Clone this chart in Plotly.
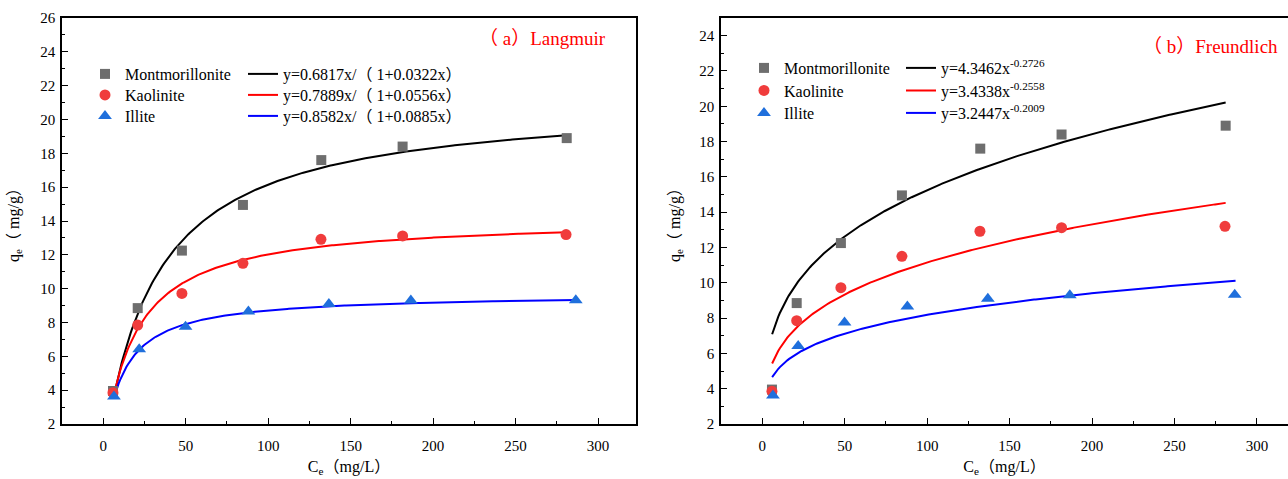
import numpy as np
import plotly.graph_objects as go

# ---- data ----
series_names = ["Montmorillonite", "Kaolinite", "Illite"]
ce_mont = [5.9, 20.9, 47.7, 84.7, 132.2, 181.5, 281.0]
qe_mont = [3.95, 8.85, 12.25, 14.95, 17.6, 18.4, 18.9]
ce_kaol = [5.9, 20.9, 47.7, 84.7, 132.0, 181.5, 280.6]
qe_kaol = [3.85, 7.85, 9.72, 11.5, 12.92, 13.12, 13.2]
ce_illi = [6.5, 21.8, 49.9, 88.0, 136.8, 186.5, 286.5]
qe_illi = [3.62, 6.42, 7.75, 8.65, 9.1, 9.3, 9.32]

# Langmuir fits y = a x / (1 + b x)
lang_a = [0.6817, 0.7889, 0.8582]
lang_b = [0.0322, 0.0556, 0.0885]
lang_labels = ["y=0.6817x/（ 1+0.0322x）", "y=0.7889x/（ 1+0.0556x）", "y=0.8582x/（ 1+0.0885x）"]
lang_xmin = [6.5, 6.5, 6.5]
# Freundlich fits y = k x^n
freu_k = [4.3462, 3.4338, 3.2447]
freu_n = [0.2726, 0.2558, 0.2009]
freu_labels = ["y=4.3462x<sup>-0.2726</sup>", "y=3.4338x<sup>-0.2558</sup>", "y=3.2447x<sup>-0.2009</sup>"]
freu_xmin = [6.0, 6.0, 6.0]
fit_xmax = [281.0, 281.0, 287.0]

x_ticks = [0, 50, 100, 150, 200, 250, 300]
panel_titles = ["（ a）Langmuir", "（ b）Freundlich"]
x_title = "C<sub>e</sub>（mg/L）"
y_title = "q<sub>e</sub>（ mg/g）"

ce_all = [ce_mont, ce_kaol, ce_illi]
qe_all = [qe_mont, qe_kaol, qe_illi]
marker_colors = ["#6e6e6e", "#f03c3c", "#1f6fdc"]
marker_symbols = ["square", "circle", "triangle-up"]
marker_sizes = [10, 11, 12]
line_colors = ["#000000", "#ff0000", "#0000ff"]

FONT = "'Liberation Serif', 'Times New Roman', 'Noto Sans CJK SC', serif"

W, H = 1288.0, 479.0
ML, MR, MT, MB = 62, 0, 18, 55
PW = W - ML - MR
PH = H - MT - MB


def px_x(px):
    return (px - ML) / PW


def px_y(py):
    return (H - MB - py) / PH


def leg_id(n):
    return "legend" if n == 1 else f"legend{n}"


# legend layout (pixel positions of each row)
leg_rows = [[74, 95, 116], [68, 90.5, 113]]
leg_marker_x = [85, 744]
leg_line_x = [243, 901]

fig = go.Figure()

for panel, (xa, ya) in enumerate([("x", "y"), ("x2", "y2")]):
    for i in range(3):
        xs = np.linspace(lang_xmin[i] if panel == 0 else freu_xmin[i], fit_xmax[i], 300)
        if panel == 0:
            ys = lang_a[i] * xs / (1 + lang_b[i] * xs)
            lab = lang_labels[i]
        else:
            ys = freu_k[i] * xs ** freu_n[i]
            lab = freu_labels[i]
        fig.add_trace(go.Scatter(x=xs, y=ys, mode="lines", name=lab,
                                 line=dict(color=line_colors[i], width=2),
                                 xaxis=xa, yaxis=ya, legend=leg_id(4 + panel * 6 + i)))
    for i in range(3):
        fig.add_trace(go.Scatter(x=ce_all[i], y=qe_all[i], mode="markers",
                                 name=series_names[i],
                                 marker=dict(symbol=marker_symbols[i], size=marker_sizes[i],
                                             color=marker_colors[i], line=dict(width=0)),
                                 xaxis=xa, yaxis=ya, legend=leg_id(1 + panel * 6 + i)))

axis_common = dict(showline=True, linecolor="black", linewidth=1.5, ticks="inside",
                   ticklen=6, tickwidth=1.2, tickcolor="black", showgrid=False,
                   zeroline=False, automargin=False,
                   tickfont=dict(family=FONT, size=15, color="black"))
minor_x = dict(ticks="inside", ticklen=3, tickcolor="black", dtick=25, showgrid=False)
minor_y = dict(ticks="inside", ticklen=3, tickcolor="black", dtick=1, showgrid=False)

fig.update_layout(
    width=1288, height=479,
    margin=dict(l=ML, r=MR, t=MT, b=MB, autoexpand=False),
    paper_bgcolor="white", plot_bgcolor="white",
    font=dict(family=FONT, size=16, color="black"),
    xaxis=dict(domain=[0, px_x(636)], range=[-25, 323], tickvals=x_ticks,
               mirror=True, minor=minor_x, anchor="y", ticklabelstandoff=7,
               title=dict(text=x_title, font=dict(family=FONT, size=16), standoff=8),
               **axis_common),
    yaxis=dict(domain=[0, 1], range=[2, 26], dtick=2, mirror=True, minor=minor_y, anchor="x",
               ticklabelstandoff=2,
               title=dict(text=y_title, font=dict(family=FONT, size=16), standoff=17),
               **axis_common),
    xaxis2=dict(domain=[px_x(721), 1.0], range=[-25, 318.8], tickvals=x_ticks,
                mirror=True, minor=minor_x, anchor="y2", ticklabelstandoff=7,
                title=dict(text=x_title, font=dict(family=FONT, size=16), standoff=8),
                **axis_common),
    yaxis2=dict(domain=[0, 1], range=[2, 25], dtick=2, mirror=False, minor=minor_y, anchor="x2",
                ticklabelstandoff=2,
                title=dict(text=y_title, font=dict(family=FONT, size=16), standoff=15),
                **axis_common),
    showlegend=True,
)

leg_common = dict(bgcolor="rgba(0,0,0,0)", borderwidth=0, xanchor="left", yanchor="middle",
                  font=dict(family=FONT, size=16, color="black"), tracegroupgap=0,
                  itemclick=False, itemdoubleclick=False)
legends = {}
for panel in range(2):
    for i in range(3):
        legends[leg_id(1 + panel * 6 + i)] = dict(x=px_x(leg_marker_x[panel]),
                                                  y=px_y(leg_rows[panel][i]), **leg_common)
        legends[leg_id(4 + panel * 6 + i)] = dict(x=px_x(leg_line_x[panel]),
                                                  y=px_y(leg_rows[panel][i]), **leg_common)
fig.update_layout(**legends)

fig.add_annotation(x=px_x(542), y=px_y(38), xref="paper", yref="paper", text=panel_titles[0],
                   xanchor="center", yanchor="middle",
                   showarrow=False, font=dict(family=FONT, size=19, color="#ff0000"))
fig.add_annotation(x=px_x(1210), y=px_y(46), xref="paper", yref="paper", text=panel_titles[1],
                   xanchor="center", yanchor="middle",
                   showarrow=False, font=dict(family=FONT, size=19, color="#ff0000"))

fig.write_html("out.html", post_script="document.body.style.margin='0';",
               config={"displayModeBar": False})
